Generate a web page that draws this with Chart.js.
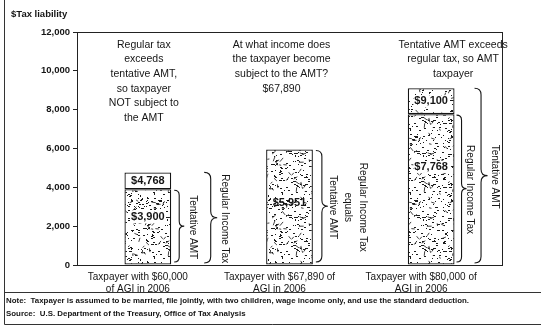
<!DOCTYPE html>
<html>
<head>
<meta charset="utf-8">
<script src="https://cdn.jsdelivr.net/npm/chart.js@4/dist/chart.umd.min.js"></script>
<style>
  html, body { margin: 0; padding: 0; background: #fff; }
  #wrap { width: 541px; height: 331px; position: relative; }
</style>
</head>
<body>
<div id="wrap"><canvas id="c" width="541" height="331"></canvas></div>
<script>
// Three example taxpayers: regular income tax vs. tentative AMT (dollars)
const categories = [
  ["Taxpayer with $60,000", "of AGI in 2006"],
  ["Taxpayer with $67,890 of", "AGI in 2006"],
  ["Taxpayer with $80,000 of", "AGI in 2006"]
];
const regularTax   = [4768, 5951, 7768];
const tentativeAmt = [3900, 5951, 9100];
const yTicks = [0, 2000, 4000, 6000, 8000, 10000, 12000];

const headlines = [
  ["Regular tax", "exceeds", "tentative AMT,", "so taxpayer", "NOT subject to", "the AMT"],
  ["At what income does", "the taxpayer become", "subject to the AMT?", "$67,890"],
  ["Tentative AMT exceeds", "regular tax, so AMT", "taxpayer"]
];
const axisTitle = "$Tax liability";
const noteText = "Note:  Taxpayer is assumed to be married, file jointly, with two children, wage income only, and use the standard deduction.";
const sourceText = "Source:  U.S. Department of the Treasury, Office of Tax Analysis";

// Stack: lower block = smaller of the two liabilities, upper block = the difference
const lowerPart = regularTax.map((r, i) => Math.min(r, tentativeAmt[i]));
const upperPart = regularTax.map((r, i) => Math.max(r, tentativeAmt[i]) - lowerPart[i]);

const INK = '#151515';
const FONT = '"Liberation Sans", Arial, sans-serif';

// Halftone-like speckle texture for the bar fills
function makeSpeckle(ctx, count, seed) {
  const c = document.createElement('canvas');
  c.width = 64; c.height = 64;
  const g = c.getContext('2d');
  g.fillStyle = '#fff';
  g.fillRect(0, 0, 64, 64);
  let s = seed;
  const rnd = () => { s = (s * 1103515245 + 12345) & 0x7fffffff; return s / 0x7fffffff; };
  g.fillStyle = '#1c1c1c';
  for (let i = 0; i < count; i++) {
    const x = Math.floor(rnd() * 64), y = Math.floor(rnd() * 64);
    g.fillRect(x, y, 1 + Math.floor(rnd() * 2), 1);
  }
  g.strokeStyle = '#2a2a2a';
  g.lineWidth = 0.9;
  for (let i = 0; i < count / 5; i++) {
    const x = rnd() * 64, y = rnd() * 64, a = rnd() * Math.PI, l = 2 + rnd() * 3;
    g.beginPath();
    g.moveTo(x, y);
    g.lineTo(x + Math.cos(a) * l, y + Math.sin(a) * l);
    g.stroke();
  }
  return ctx.createPattern(c, 'repeat');
}

const canvas = document.getElementById('c');
const ctx0 = canvas.getContext('2d');
const speckle = makeSpeckle(ctx0, 260, 7);
const speckleLight = makeSpeckle(ctx0, 190, 91);

function money(v) { return '$' + v.toLocaleString('en-US'); }

// Curly brace with its tip pointing right
function brace(ctx, x, yTop, yBot, w) {
  const mid = (yTop + yBot) / 2;
  const r = Math.min(w / 2, (yBot - yTop) / 4);
  const xm = x + w / 2;
  ctx.beginPath();
  ctx.moveTo(x, yTop);
  ctx.quadraticCurveTo(xm, yTop, xm, yTop + r);
  ctx.lineTo(xm, mid - r);
  ctx.quadraticCurveTo(xm, mid, x + w, mid);
  ctx.quadraticCurveTo(xm, mid, xm, mid + r);
  ctx.lineTo(xm, yBot - r);
  ctx.quadraticCurveTo(xm, yBot, x, yBot);
  ctx.stroke();
}

function vText(ctx, text, x, y, size) {
  ctx.save();
  ctx.translate(x, y);
  ctx.rotate(Math.PI / 2);
  ctx.font = size + 'px ' + FONT;
  ctx.textAlign = 'center';
  ctx.textBaseline = 'middle';
  ctx.fillText(text, 0, 0);
  ctx.restore();
}

// brace/caption offsets from each bar's right edge:
// [inner brace x, inner caption x, outer brace x, outer caption x]
const braceOffsets = [[3, 22, 33, 54], [3, 20, 0, 0], [2, 15, 20, 40]];

const decorations = {
  id: 'decorations',
  beforeDraw(chart) {
    const { ctx } = chart;
    ctx.save();
    ctx.fillStyle = '#fff';
    ctx.fillRect(0, 0, chart.width, chart.height);
    // outer frame and footer separator
    ctx.strokeStyle = '#333';
    ctx.lineWidth = 1;
    ctx.beginPath();
    ctx.moveTo(4.5, 0); ctx.lineTo(4.5, 324.5); ctx.lineTo(541, 324.5);
    ctx.moveTo(4.5, 292.5); ctx.lineTo(541, 292.5);
    ctx.stroke();
    ctx.fillStyle = INK;
    ctx.textBaseline = 'middle';
    ctx.textAlign = 'left';
    ctx.font = 'bold 9.5px ' + FONT;
    ctx.fillText(axisTitle, 11, 14);
    ctx.font = 'bold 7.9px ' + FONT;
    ctx.fillText(noteText, 6, 301);
    ctx.fillText(sourceText, 6, 314);
    ctx.restore();
  },
  afterDatasetsDraw(chart) {
    const { ctx, chartArea: a } = chart;
    const y = chart.scales.y;
    const lo = chart.getDatasetMeta(0).data;
    ctx.save();
    // plot area box
    ctx.strokeStyle = '#222';
    ctx.lineWidth = 1;
    ctx.strokeRect(Math.round(a.left) + 0.5, Math.round(a.top) + 0.5,
                   Math.round(a.right - a.left), Math.round(a.bottom - a.top));

    ctx.fillStyle = INK;
    ctx.strokeStyle = INK;
    const y0 = y.getPixelForValue(0);
    const labelFrac = [0.63, 0.54, 0.65];

    lo.forEach((bar, i) => {
      const half = bar.width / 2;
      const right = bar.x + half;
      const low = lowerPart[i];
      const high = low + upperPart[i];
      const yLow = y.getPixelForValue(low);
      const yHigh = y.getPixelForValue(high);
      const off = braceOffsets[i];

      // value labels
      ctx.font = 'bold 11px ' + FONT;
      ctx.textAlign = 'center';
      ctx.textBaseline = 'middle';
      const drawLabel = (txt, ly, plate) => {
        if (plate) {
          const w = ctx.measureText(txt).width;
          ctx.fillStyle = '#fff';
          ctx.fillRect(bar.x - w / 2 - 1, ly - 6, w + 2, 12);
        }
        ctx.fillStyle = INK;
        ctx.fillText(txt, bar.x, ly);
      };
      if (upperPart[i] > 0) {
        drawLabel(money(high), (yHigh + yLow) / 2, true);
        drawLabel(money(low), y0 - (y0 - yLow) * labelFrac[i], true);
      } else {
        drawLabel(money(low), y0 - (y0 - yLow) * labelFrac[i], false);
      }

      // braces with rotated captions
      ctx.lineWidth = 1.1;
      if (upperPart[i] > 0) {
        const innerName = regularTax[i] < tentativeAmt[i] ? 'Regular Income Tax' : 'Tentative AMT';
        const outerName = regularTax[i] < tentativeAmt[i] ? 'Tentative AMT' : 'Regular Income Tax';
        brace(ctx, right + off[0], yLow + 1, y0 - 3, 10);
        vText(ctx, innerName, right + off[1], (yLow + y0) / 2, 10);
        brace(ctx, right + off[2], yHigh, y0 - 2, 13);
        vText(ctx, outerName, right + off[3], (yHigh + y0) / 2, 10);
      } else {
        brace(ctx, right + off[0], yLow + 1, y0 - 3, 12);
        const mid = (yLow + y0) / 2;
        vText(ctx, 'Regular Income Tax', right + 50, mid, 10);
        vText(ctx, 'equals', right + 35, mid, 10);
        vText(ctx, 'Tentative AMT', right + 20, mid, 10);
      }
    });

    // headline captions above each bar
    const hx = [lo[0].x - 4, lo[1].x - 8, lo[2].x + 22];
    ctx.font = '10.5px ' + FONT;
    ctx.textAlign = 'center';
    ctx.textBaseline = 'middle';
    ctx.fillStyle = INK;
    headlines.forEach((lines, i) => {
      lines.forEach((t, k) => ctx.fillText(t, hx[i], a.top + 13 + k * 14.6));
    });
    ctx.restore();
  }
};

new Chart(canvas, {
  type: 'bar',
  data: {
    labels: categories,
    datasets: [
      {
        label: 'Lower block',
        data: lowerPart,
        backgroundColor: speckle,
        borderColor: INK,
        borderWidth: 1.3,
        borderSkipped: false,
        stack: 'tax',
        categoryPercentage: 1,
        barPercentage: 0.33
      },
      {
        label: 'Upper block',
        data: upperPart.map(v => v > 0 ? v : null),
        backgroundColor: ['#ffffff', speckleLight, speckleLight],
        borderColor: INK,
        borderWidth: 1.3,
        borderSkipped: false,
        stack: 'tax',
        categoryPercentage: 1,
        barPercentage: 0.33
      }
    ]
  },
  options: {
    responsive: false,
    animation: false,
    devicePixelRatio: 1,
    layout: { padding: { left: 0, right: 39, top: 32, bottom: 0 } },
    plugins: {
      legend: { display: false },
      tooltip: { enabled: false },
      title: { display: false }
    },
    scales: {
      x: {
        stacked: true,
        grid: { display: false, drawTicks: false },
        border: { color: '#222', width: 1 },
        ticks: {
          color: INK,
          font: { family: FONT, size: 10 },
          padding: 6,
          labelOffset: -10,
          maxRotation: 0,
          autoSkip: false
        },
        afterFit(scale) { scale.height = 66; }
      },
      y: {
        stacked: true,
        min: 0,
        max: 12000,
        afterBuildTicks(scale) { scale.ticks = yTicks.map(v => ({ value: v })); },
        grid: { drawOnChartArea: false, tickLength: 4, color: '#222' },
        border: { color: '#222', width: 1 },
        ticks: {
          color: INK,
          font: { family: FONT, size: 9.5, weight: 'bold' },
          padding: 3,
          callback: v => v.toLocaleString('en-US')
        },
        afterFit(scale) { scale.width = 77; }
      }
    }
  },
  plugins: [decorations]
});
</script>
</body>
</html>
